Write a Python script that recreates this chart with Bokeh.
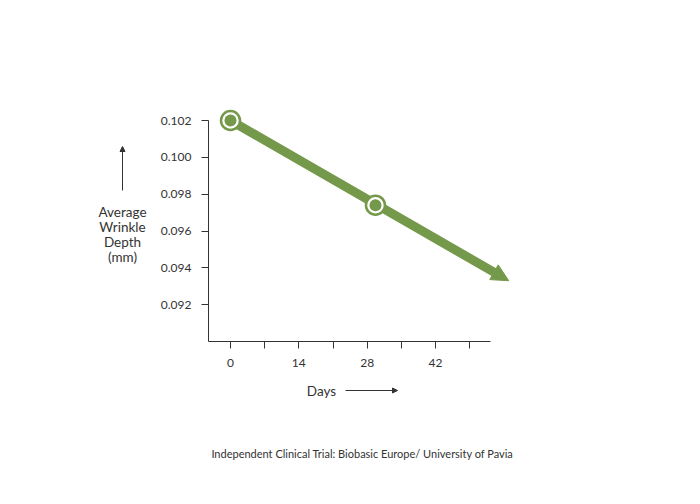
from bokeh.plotting import figure
from bokeh.models import Range1d, FixedTicker, PrintfTickFormatter, Label, Arrow, NormalHead
from bokeh.embed import file_html
from bokeh.resources import INLINE

# Measured wrinkle depth (mm) over the trial
days = [0, 29.7]
depth_mm = [0.1020, 0.0974]
# Where the downward trend arrow points
trend_end_day = 57.0
trend_end_depth = 0.0933

x_ticks = [0, 7, 14, 21, 28, 35, 42, 49]
x_tick_text = {0: "0", 7: "", 14: "14", 21: "", 28: "28", 35: "", 42: "42", 49: ""}
y_ticks = [0.092, 0.094, 0.096, 0.098, 0.100, 0.102]

y_title_lines = ["Average", "Wrinkle", "Depth", "(mm)"]
x_title = "Days"
source_note = "Independent Clinical Trial: Biobasic Europe/ University of Pavia"

GREEN = "#75994a"
INK = "#333333"
FONT = "Lato"

# canvas and frame, in pixels
W, H = 700, 504
F_LEFT, F_BOTTOM = 70, 464
PX_PER_DAY = (435 - 230) / 42.0
PX_PER_MM = (341 - 120) / 0.012


def dx(px):
    return (px - 230) / PX_PER_DAY


def dy(py):
    return 0.102 - (py - 120) / PX_PER_MM


p = figure(
    width=W, height=H,
    x_range=Range1d(dx(F_LEFT), dx(W)),
    y_range=Range1d(dy(F_BOTTOM), dy(0)),
    output_backend="svg", toolbar_location=None,
    min_border_left=F_LEFT, min_border_right=0,
    min_border_top=0, min_border_bottom=H - F_BOTTOM,
)
p.outline_line_color = None
p.grid.visible = False
p.background_fill_color = "white"
p.border_fill_color = "white"

for ax in (p.xaxis[0], p.yaxis[0]):
    ax.axis_line_color = INK
    ax.axis_line_width = 1
    ax.major_tick_line_color = INK
    ax.major_tick_in = 0
    ax.major_tick_out = 7
    ax.minor_tick_line_color = None
    ax.major_label_text_font = FONT
    ax.major_label_text_font_size = "12px"
    ax.major_label_text_color = INK

# axes sit at the corner of the data area rather than at the canvas edge
p.xaxis.fixed_location = dy(341)
p.yaxis.fixed_location = dx(208)

p.xaxis.ticker = FixedTicker(ticks=x_ticks)
p.xaxis.major_label_overrides = x_tick_text
p.xaxis.major_label_standoff = 10
p.xaxis.bounds = (dx(208), dx(490))

p.yaxis.ticker = FixedTicker(ticks=y_ticks)
p.yaxis.formatter = PrintfTickFormatter(format="%.3f")
p.yaxis.major_label_standoff = 10
p.yaxis.bounds = (dy(341), 0.102)

# trend arrow through the measurements
trend = Arrow(
    end=NormalHead(size=17, fill_color=GREEN, line_color=GREEN, line_width=1),
    x_start=days[0], y_start=depth_mm[0],
    x_end=trend_end_day, y_end=trend_end_depth,
    line_color=GREEN, line_width=9, level="underlay",
)
p.add_layout(trend)

p.scatter(days, depth_mm, size=19, fill_color="white", line_color=GREEN, line_width=2.5)
p.scatter(days, depth_mm, size=12, fill_color=GREEN, line_color=None)

# axis titles with their direction arrows
for i, line in enumerate(y_title_lines):
    p.add_layout(Label(x=dx(122), y=dy(211 + 15 * i), text=line,
                       text_align="center", text_baseline="middle",
                       text_font=FONT, text_font_size="13.5px", text_color=INK))
p.add_layout(Arrow(end=NormalHead(size=5, fill_color=INK, line_color=INK, line_width=1),
                   x_start=dx(122), y_start=dy(190), x_end=dx(122), y_end=dy(146),
                   line_color=INK, line_width=1))

p.add_layout(Label(x=dx(321), y=dy(390), text=x_title,
                   text_align="center", text_baseline="middle",
                   text_font=FONT, text_font_size="13.5px", text_color=INK))
p.add_layout(Arrow(end=NormalHead(size=5, fill_color=INK, line_color=INK, line_width=1),
                   x_start=dx(345), y_start=dy(390), x_end=dx(397), y_end=dy(390),
                   line_color=INK, line_width=1))

p.add_layout(Label(x=dx(362), y=dy(453), text=source_note,
                   text_align="center", text_baseline="middle",
                   text_font=FONT, text_font_size="11px", text_color=INK))

open("out.html", "w").write(file_html(p, INLINE))
